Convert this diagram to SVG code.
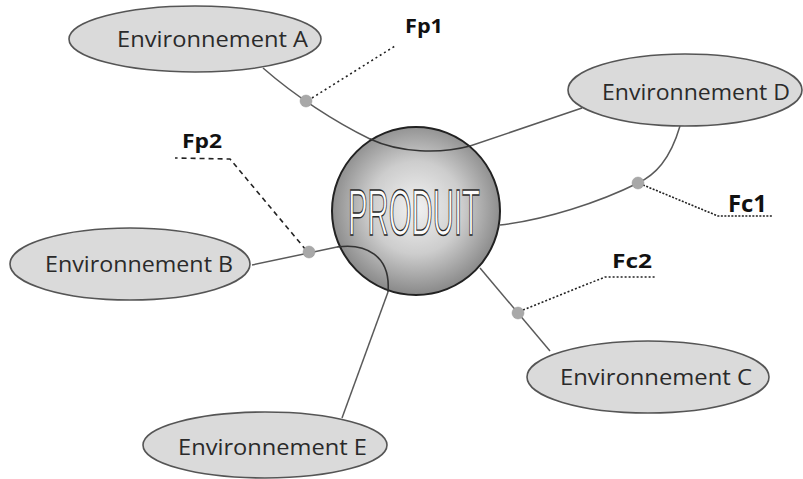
<svg xmlns="http://www.w3.org/2000/svg" width="803" height="479" viewBox="0 0 803 479">
<defs>
<radialGradient id="sph" cx="0.5" cy="0.48" r="0.55">
<stop offset="0" stop-color="#f2f2f2"/>
<stop offset="0.5" stop-color="#cdcdcd"/>
<stop offset="1" stop-color="#808080"/>
</radialGradient>
<style>
.env ellipse{fill:#dadada;stroke:#555;stroke-width:1.6}
.env text{font-family:"Open Sans","Noto Sans",sans-serif;font-size:21px;fill:#2a2a2a}
.conn path{fill:none;stroke:#5a5a5a;stroke-width:1.5}
.dot{fill:#a8a8a8;stroke:#999;stroke-width:0.5}
.lead{fill:none;stroke:#222;stroke-width:1.6}
.lbl{font-family:"Open Sans","Noto Sans",sans-serif;font-weight:bold;fill:#111}
</style>
</defs>
<rect width="803" height="479" fill="#fff"/>

<g id="connectors" class="conn">
<path d="M263,68 C295,96 335,122 370,139 C400,153 440,154 470,146 L582,108"/>
<path d="M680,126 C670,160 655,175 638,183 C600,202 545,220 500,225"/>
<path d="M480,268 L550,351"/>
<path d="M252,265 L337,247"/>
<path d="M388,292 L342,418"/>
</g>

<g id="produit">
<circle cx="416" cy="211" r="84" fill="url(#sph)" stroke="#222" stroke-width="2"/>
<path d="M370,139 C400,153 440,154 470,146" fill="none" stroke="#333" stroke-width="1.6"/>
<path d="M337,247 C365,243 391,255 388,292" fill="none" stroke="#333" stroke-width="1.6"/>
<text x="348" y="235" textLength="132" lengthAdjust="spacingAndGlyphs" font-family="'Liberation Sans',sans-serif" font-size="64" fill="#fcfcfc" stroke="#2a2a2a" stroke-width="1.4">PRODUIT</text>
</g>

<g id="envA" class="env">
<ellipse cx="195" cy="39" rx="126" ry="33"/>
<text x="117" y="47" textLength="191" lengthAdjust="spacingAndGlyphs">Environnement A</text>
</g>
<g id="envD" class="env">
<ellipse cx="685" cy="90" rx="117" ry="36"/>
<text x="602" y="100" textLength="188" lengthAdjust="spacingAndGlyphs">Environnement D</text>
</g>
<g id="envB" class="env">
<ellipse cx="130" cy="264" rx="120" ry="36"/>
<text x="45" y="272" textLength="188" lengthAdjust="spacingAndGlyphs">Environnement B</text>
</g>
<g id="envC" class="env">
<ellipse cx="648" cy="377" rx="121" ry="36"/>
<text x="560" y="385" textLength="192" lengthAdjust="spacingAndGlyphs">Environnement C</text>
</g>
<g id="envE" class="env">
<ellipse cx="265" cy="445" rx="122" ry="33"/>
<text x="178" y="455" textLength="189" lengthAdjust="spacingAndGlyphs">Environnement E</text>
</g>

<g id="Fp1">
<path class="lead" d="M312,98 L395,46" stroke-width="2" stroke-dasharray="2,3"/>
<circle class="dot" cx="306" cy="101" r="6"/>
<text class="lbl" x="405" y="33" font-size="19" textLength="38" lengthAdjust="spacingAndGlyphs">Fp1</text>
</g>
<g id="Fp2">
<path class="lead" d="M306,250 L230,159 L175,158" stroke="#444" stroke-width="1.3" stroke-dasharray="5,4"/>
<circle class="dot" cx="309" cy="252" r="6"/>
<text class="lbl" x="182" y="148" font-size="20" fill="#333" textLength="40" lengthAdjust="spacingAndGlyphs">Fp2</text>
</g>
<g id="Fc1">
<path class="lead" d="M643,185 L718,216 L772,216" stroke-width="2" stroke-dasharray="2,1.5"/>
<circle class="dot" cx="638" cy="183" r="6"/>
<text class="lbl" x="728" y="212" font-size="23" textLength="39" lengthAdjust="spacingAndGlyphs">Fc1</text>
</g>
<g id="Fc2">
<path class="lead" d="M523,310 L605,277 L655,277" stroke="#555" stroke-width="1.2" stroke-dasharray="2,2"/>
<circle class="dot" cx="518" cy="313" r="6"/>
<text class="lbl" x="612" y="268" font-size="19" fill="#444" font-weight="600" textLength="40" lengthAdjust="spacingAndGlyphs">Fc2</text>
</g>
</svg>
